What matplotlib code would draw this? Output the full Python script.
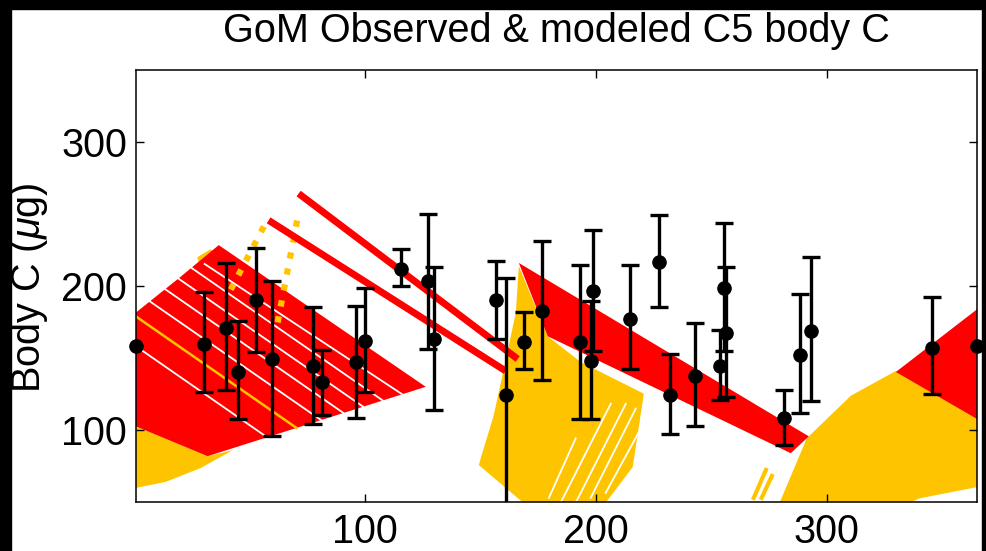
import matplotlib
matplotlib.use("Agg")
import matplotlib.pyplot as plt
from matplotlib.patches import Rectangle

plt.rcParams['font.family'] = ['Liberation Sans', 'DejaVu Sans']
plt.rcParams['mathtext.fontset'] = 'custom'
plt.rcParams['mathtext.rm'] = 'Liberation Sans'
plt.rcParams['mathtext.it'] = 'Liberation Sans:italic'

RED = '#ff0000'
YEL = '#ffc400'

# observed C5 body C (day, mean, lower, upper)
obs_day = [30.4, 39.8, 45.2, 52.8, 60.0, 77.4, 81.3, 96.1, 100.1, 115.9, 127.5, 130.0,
           157.0, 161.0, 169.0, 176.9, 193.1, 198.6, 197.8, 214.8, 227.3, 232.0, 243.0,
           253.7, 255.6, 256.3, 281.5, 288.3, 293.1, 345.5]
obs_mean = [159.6, 171.1, 140.5, 190.1, 149.3, 144.2, 133.2, 147.4, 161.9, 211.7, 203.2, 163.0,
            190.1, 124.0, 160.8, 182.5, 160.8, 196.3, 148.1, 177.3, 216.9, 124.0, 137.8,
            144.7, 198.6, 167.6, 108.0, 152.2, 168.8, 156.8]
obs_lo = [126.3, 127.5, 107.5, 154.3, 95.8, 104.5, 110.7, 108.5, 126.3, 199.7, 156.2, 113.7,
          163.0, 42.5, 142.4, 134.8, 107.5, 155.0, 107.5, 142.4, 185.5, 97.0, 102.9,
          121.1, 154.6, 122.9, 89.6, 112.1, 119.9, 124.7]
obs_hi = [195.6, 216.3, 175.6, 226.1, 203.6, 185.5, 155.7, 186.4, 198.4, 225.7, 249.8, 213.5,
          217.4, 205.5, 181.8, 231.2, 214.7, 238.7, 189.4, 214.7, 249.6, 152.7, 174.1,
          169.3, 243.8, 213.5, 127.5, 194.7, 220.0, 192.2]
edge_day = [1, 365]
edge_mean = [158.4, 158.4]

# modeled trajectories, outlines (day, body C)
red_left_x = [1, 20.3, 36.8, 126.4, 32.0, 1]
red_left_y = [181.6, 206.4, 228.4, 130.0, 81.8, 102.5]
red_mid_x = [166.7, 292.2, 284.4, 179.2]
red_mid_y = [216.0, 95.6, 83.9, 165.1]
red_right_x = [329.9, 370, 370]
red_right_y = [140.3, 190.0, 103.0]
red_thin = [([71.4, 166.2], [264.2, 149.3]),
            ([58.4, 161.0], [245.6, 141.0])]
gaps_left = [([30.7, 116.5], [215.3, 124.5]),
             ([25.0, 107.8], [212.6, 120.5]),
             ([19.4, 99.3], [205.1, 116.2]),
             ([13.7, 90.8], [197.7, 111.8]),
             ([7.1, 81.1], [189.2, 106.9]),
             ([1.3, 57.7], [157.8, 95.0])]
yel_streak = [([1.3, 70.5], [178.5, 101.4])]

yel_low_x = [1, 32.0, 42.9, 29.0, 13.9, 1]
yel_low_y = [102.5, 81.8, 86.0, 73.6, 64.0, 59.8]
yel_patch_x = [27.5, 33.3, 39.3, 37.7, 30.7]
yel_patch_y = [220.0, 225.5, 217.2, 197.9, 201.4]
yel_mid_x = [166.7, 165.4, 160.2, 155.8, 150.2, 149.4, 171.9, 202.2, 216.0, 220.8, 193.5, 179.2]
yel_mid_y = [213.9, 181.6, 142.4, 110.0, 80.4, 75.6, 45.0, 45.0, 74.3, 125.2, 147.2, 165.1]
gaps_mid = [([179.7, 191.3], [52.9, 94.2]),
            ([184.8, 206.5], [49.5, 118.3]),
            ([191.3, 213.0], [49.5, 118.3]),
            ([197.8, 217.3], [52.9, 114.9]),
            ([204.3, 219.5], [56.4, 101.1])]
yel_right_x = [278.4, 291.3, 310.4, 329.9, 370, 370, 340.0, 330.0, 278.4]
yel_right_y = [45.0, 94.2, 123.8, 141.0, 103.0, 61.9, 52.5, 45.0, 45.0]
yel_stripes = [([268.0, 274.0], [51.5, 73.6]),
               ([271.4, 276.6], [51.5, 69.4])]
yel_dotted = [([42.0, 57.1], [197.5, 243.6]),
              ([62.3, 71.4], [174.7, 251.1])]

fig = plt.figure(figsize=(9.87, 5.51), dpi=100)
fig.patch.set_facecolor('white')
ax = fig.add_axes([136 / 987, 1 - 502 / 551, 841 / 987, 432 / 551])

# yellow model output
ax.fill(yel_low_x, yel_low_y, color=YEL, lw=0)
ax.fill(yel_mid_x, yel_mid_y, color=YEL, lw=0)
for xs, ys in gaps_mid:
    ax.plot(xs, ys, color='white', lw=1.3)
ax.fill(yel_right_x, yel_right_y, color=YEL, lw=0)
ax.fill(yel_patch_x, yel_patch_y, color=YEL, lw=0)
for xs, ys in yel_stripes:
    ax.plot(xs, ys, color=YEL, lw=3, solid_capstyle='butt')
for xs, ys in yel_dotted:
    ax.plot(xs, ys, color=YEL, lw=4.5, ls=(0, (1, 1.6)))

# red model output
ax.fill(red_left_x, red_left_y, color=RED, lw=0)
ax.fill(red_mid_x, red_mid_y, color=RED, lw=0)
ax.fill(red_right_x, red_right_y, color=RED, lw=0)
for xs, ys in red_thin:
    ax.plot(xs, ys, color=RED, lw=5, solid_capstyle='butt')
for xs, ys in gaps_left:
    ax.plot(xs, ys, color='white', lw=1.3)
for xs, ys in yel_streak:
    ax.plot(xs, ys, color=YEL, lw=1.8)

# observations
err_lo = [m - l for m, l in zip(obs_mean, obs_lo)]
err_hi = [h - m for m, h in zip(obs_mean, obs_hi)]
ax.errorbar(obs_day, obs_mean, yerr=[err_lo, err_hi], fmt='o', color='k', ms=9.5,
            elinewidth=2.4, capsize=6.5, capthick=2.4, zorder=5)
ax.plot(edge_day, edge_mean, 'o', color='k', ms=9.5, zorder=5, clip_on=False)

ax.set_xlim(1, 365)
ax.set_ylim(50, 350)
ax.set_xticks([100, 200, 300])
ax.set_yticks([100, 200, 300])
ax.tick_params(direction='in', length=5.8, width=1, top=True, right=True,
               labelsize=28.5, colors='k')
ax.tick_params(axis='x', pad=8)
ax.tick_params(axis='y', pad=6.5)
for s in ax.spines.values():
    s.set_linewidth(1.1)
    s.set_zorder(6)

fig.text(556 / 987, 1 - 42 / 551, 'GoM Observed & modeled C5 body C',
         ha='center', va='baseline', fontsize=28.5)
fig.text(29 / 987, 1 - 288 / 551, 'Body C ($\\mu$g)', rotation=90,
         ha='center', va='center', fontsize=28.5)

# dark edges of the screenshot
for r in [(0, 1 - 9 / 551, 1, 9 / 551), (0, 0, 11 / 987, 1), (982 / 987, 0, 5 / 987, 1)]:
    fig.patches.append(Rectangle(r[:2], r[2], r[3], transform=fig.transFigure,
                                 color='k', zorder=10))

fig.savefig('out.png', dpi=100, facecolor=fig.get_facecolor())
